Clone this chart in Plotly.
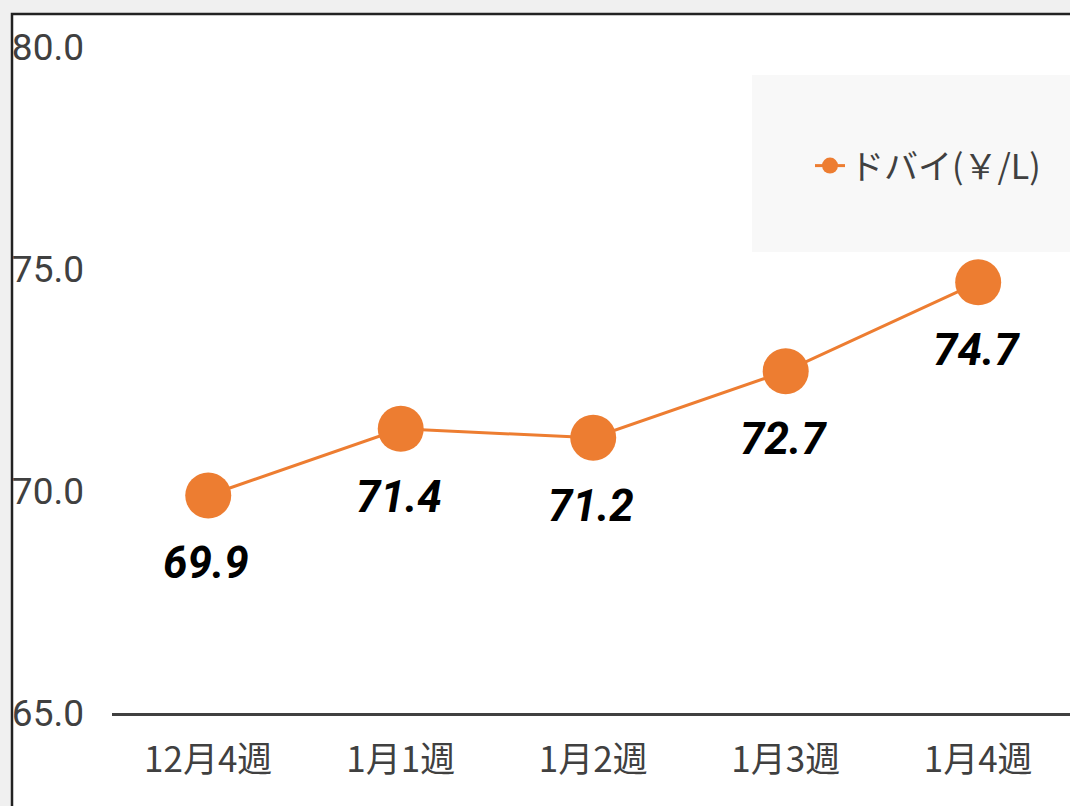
import plotly.graph_objects as go

categories = ["12月4週", "1月1週", "1月2週", "1月3週", "1月4週"]
values = [69.9, 71.4, 71.2, 72.7, 74.7]
series_name = "ドバイ(￥/L)"
y_ticks = [65.0, 70.0, 75.0, 80.0]

W, H = 1070, 806
L, R, T, B = 112, 0, 20, 93
pw, ph = W - L - R, H - T - B

def px_x(x):
    return (x - L) / pw

def px_y(y):
    return (H - B - y) / ph

orange = "#ED7D31"
grey = "#404040"
latin = "Roboto, Arial, sans-serif"
cjk = "Noto Sans CJK JP, sans-serif"

fig = go.Figure()
fig.add_trace(go.Scatter(
    x=categories, y=values, mode="lines+markers", name=series_name,
    line=dict(color=orange, width=3),
    marker=dict(color=orange, size=46),
))

for c, v in zip(categories, values):
    fig.add_annotation(
        x=c, y=v, text=f"{v:.1f}", showarrow=False, yshift=-68, xshift=-2,
        font=dict(family=latin, size=44, color="#000000", weight="bold", style="italic"),
    )

shapes = [
    dict(type="rect", xref="paper", yref="paper",
         x0=px_x(12), x1=px_x(1200), y0=px_y(14), y1=px_y(900),
         fillcolor="white", line=dict(color="#222222", width=2.5), layer="below"),
    dict(type="rect", xref="paper", yref="paper",
         x0=px_x(752), x1=px_x(1075), y0=px_y(75), y1=px_y(252),
         fillcolor="#F8F8F8", line=dict(width=0), layer="below"),
]

fig.update_layout(
    width=W, height=H,
    margin=dict(l=L, r=R, t=T, b=B),
    paper_bgcolor="#F0F0F0",
    plot_bgcolor="rgba(0,0,0,0)",
    shapes=shapes,
    showlegend=True,
    legend=dict(
        x=px_x(810), y=px_y(166), xanchor="left", yanchor="middle",
        bgcolor="rgba(0,0,0,0)", font=dict(family=cjk, size=34, color=grey),
        itemsizing="trace",
    ),
    xaxis=dict(
        type="category", range=[-0.5, 4.477],
        showline=True, linecolor=grey, linewidth=3,
        showgrid=False, ticks="", ticklabelstandoff=14,
        tickfont=dict(family=cjk, size=35, color=grey),
    ),
    yaxis=dict(
        range=[65, 80.61], tickvals=y_ticks, ticktext=[f"{t:.1f}" for t in y_ticks],
        showgrid=False, zeroline=False, showline=False, ticks="",
        ticklabelstandoff=27,
        tickfont=dict(family=latin, size=37, color=grey),
    ),
)

fig.write_html(
    "out.html",
    config={"displayModeBar": False},
    post_script="document.body.style.margin='0';document.body.style.overflow='hidden';document.body.style.background='#F0F0F0';",
)
